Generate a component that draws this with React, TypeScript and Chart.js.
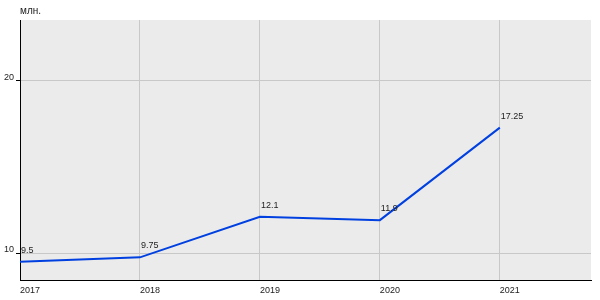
import React, { useEffect, useRef } from "react";
import { Chart, registerables } from "chart.js";

Chart.register(...registerables);

const years = [2017, 2018, 2019, 2020, 2021];
const values = [9.5, 9.75, 12.1, 11.9, 17.25];
const valueLabels = ["9.5", "9.75", "12.1", "11.9", "17.25"];
const yTicks = [10, 20];
const unitLabel = "млн.";

const FONT = "'Liberation Sans', Arial, sans-serif";

export default function App() {
  const ref = useRef<HTMLCanvasElement | null>(null);

  useEffect(() => {
    document.body.style.margin = "0";
    const canvas = ref.current;
    if (!canvas) return;

    const bgPlugin = {
      id: "bg",
      beforeDraw(chart: any) {
        const { ctx, chartArea } = chart;
        ctx.save();
        ctx.fillStyle = "#ebebeb";
        ctx.fillRect(chartArea.left, chartArea.top, chartArea.right - chartArea.left, chartArea.bottom - chartArea.top);
        ctx.restore();
      },
    };

    const labelPlugin = {
      id: "vlabels",
      afterDatasetsDraw(chart: any) {
        const { ctx, chartArea } = chart;
        const meta = chart.getDatasetMeta(0);
        ctx.save();
        ctx.font = `9px ${FONT}`;
        ctx.fillStyle = "#222";
        ctx.textAlign = "left";
        ctx.textBaseline = "bottom";
        meta.data.forEach((pt: any, i: number) => {
          ctx.fillText(valueLabels[i], pt.x + 1, pt.y - 7);
        });
        ctx.font = `10px ${FONT}`;
        ctx.textBaseline = "middle";
        ctx.fillText(unitLabel, chartArea.left, 11);
        ctx.restore();
      },
    };

    const chart = new Chart(canvas, {
      type: "line",
      data: {
        datasets: [
          {
            data: years.map((y, i) => ({ x: y, y: values[i] })),
            borderColor: "#0040e0",
            borderWidth: 2,
            pointRadius: 0,
            tension: 0,
            fill: false,
          },
        ],
      },
      options: {
        animation: false,
        responsive: false,
        layout: { padding: { top: 20, right: 9, left: 0, bottom: 0 } },
        plugins: { legend: { display: false }, tooltip: { enabled: false } },
        scales: {
          x: {
            type: "linear",
            min: 2017,
            max: 2021.76,
            afterBuildTicks(scale: any) {
              scale.ticks = years.map((v) => ({ value: v }));
            },
            afterFit(scale: any) {
              scale.height = 20;
            },
            grid: { color: "#c8c8c8", drawTicks: false },
            border: { color: "#000", width: 1 },
            ticks: {
              align: "start",
              padding: 5,
              maxRotation: 0,
              autoSkip: false,
              color: "#222",
              font: { family: FONT, size: 9 },
              callback: (v: any) => String(v),
            },
          },
          y: {
            type: "linear",
            min: 8.44,
            max: 23.47,
            afterBuildTicks(scale: any) {
              scale.ticks = yTicks.map((v) => ({ value: v }));
            },
            afterFit(scale: any) {
              scale.width = 20;
            },
            grid: { color: "#c8c8c8", tickColor: "#000", tickLength: 4 },
            border: { color: "#000", width: 1 },
            ticks: {
              padding: 2,
              labelOffset: -3,
              color: "#222",
              font: { family: FONT, size: 9 },
              callback: (v: any) => String(v),
            },
          },
        },
      },
      plugins: [bgPlugin, labelPlugin],
    } as any);

    return () => chart.destroy();
  }, []);

  return (
    <div style={{ position: "relative", width: 600, height: 300 }}>
      <canvas ref={ref} width={600} height={300} style={{ display: "block", width: 600, height: 300 }} />
    </div>
  );
}
